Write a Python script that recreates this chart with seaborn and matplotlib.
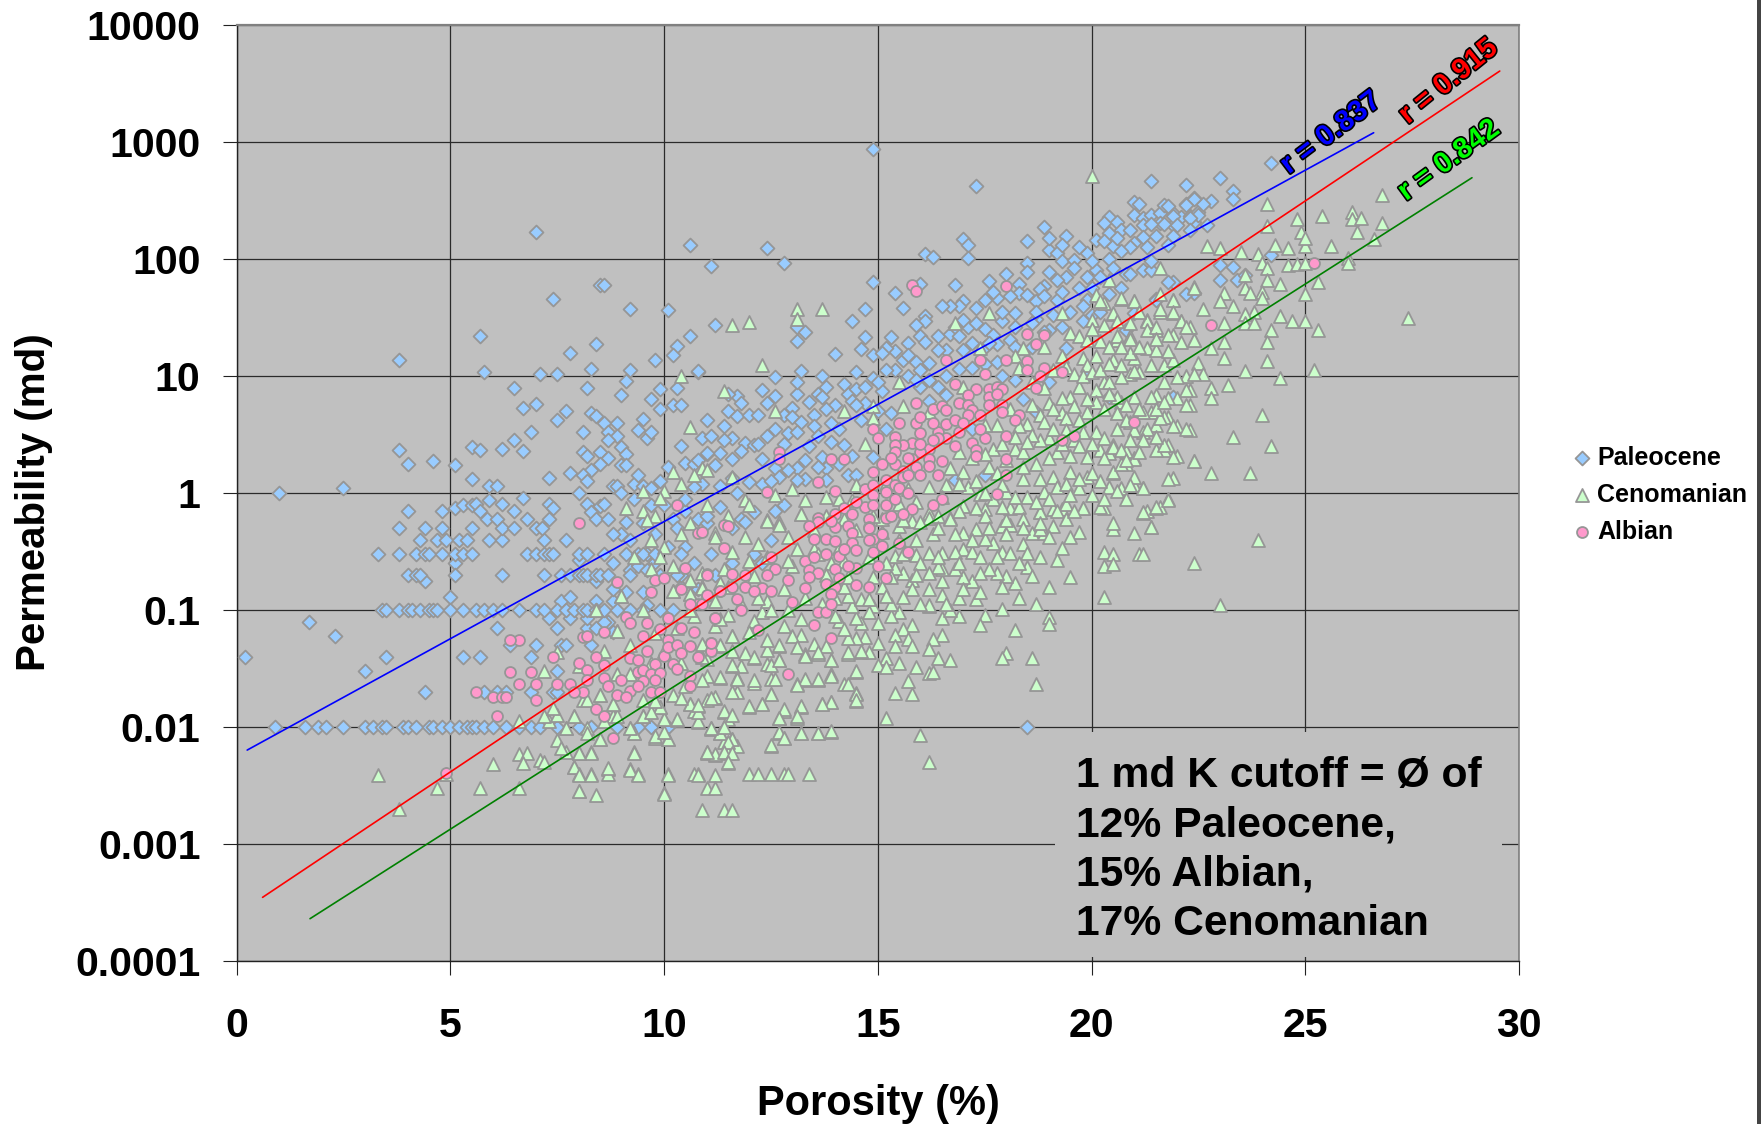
import matplotlib
matplotlib.use('Agg')
import matplotlib.pyplot as plt
import matplotlib.patheffects as pe
from matplotlib.patches import Rectangle
import pandas as pd
import seaborn as sns

# porosity (%) of Paleocene samples sitting on the round permeability values (md)
paleo_por_k001 = [.9,1.6,1.9,2.1,2.5,3,3.2,3.4,3.5,3.9,4,4.2,4.5,4.6,4.8,5,5.2,5.4,5.5,5.6,5.8,6,6.3,6.6,6.9,7.1,7.5,8,8.3,8.9,9.4,9.7,10.1,18.5]
paleo_por_k01 = [3.4,3.5,3.8,4,4.1,4.3,4.5,4.6,4.7,5,5.3,5.6,5.8,6,6.2,6.6,7,7.2,7.5,7.7,7.9,8.1,8.2,8.4,8.6,8.9,9.2,9.5,9.9,10.2]
paleo_por_k02 = [4,4.2,4.3,5.1,6.2,7.2,7.6,7.8,8,8.1,8.2,8.4,8.5,8.7,9.2,10.3]
paleo_por_k03 = [3.3,3.8,4.2,4.4,4.5,4.8,5.1,5.3,5.5,6.8,7,7.2,7.3,7.4,8,8.2,8.6,9.1,9.4,9.5,9.8,10.4]
paleo_por_k04 = [4.3,4.7,4.9,5.2,5.4,5.9,6.2,7.2,7.7]
paleo_por_k05 = [3.8,4.4,4.8,5.5,6.2,6.5,7,7.15]

# everything else: (porosity %, log10 permeability)
paleocene_pts = [(.2,-1.4),(1,0),(2.5,.04),(1.7,-1.1),(2.3,-1.22),(3.5,-1.4),(5.3,-1.4),(5.7,-1.4),(6.9,-1.4),(3,-1.52),(7.5,-1.52),
(4.4,-1.7),(5.8,-1.7),(6.1,-1.7),(6.3,-1.7),(6.9,-1.7),(7.4,-1.7),(7.5,-1.7),(6.4,-1.3),(7,-1.3),(7.6,-1.3),(7.7,-1.3),(8.3,-1.3),
(6.1,-1.15),(7.5,-1.15),(8.2,-1.15),(8.4,-1.15),(8.8,-1.19),(7.3,-1.07),(7.8,-1.07),(8.2,-1.07),(8.7,-1.1),(8.6,-1.1),
(5,-.89),(7.6,-.92),(7.8,-.89),(8.4,-.92),(8.8,-.92),(9.6,-.96),(4.4,-.75),(8.4,-.75),(8.8,-.82),(9.5,-.85),(9.1,-.85),(10.4,-.8),
(5.1,-.6),(8,-.57),(8.8,-.6),(9.2,-.66),(9.4,-.62),(9.6,-.66),(9.8,-.59),
(14.9,2.94),(17.3,2.62),(7,2.23),(10.6,2.12),(11.1,1.94),(8.5,1.78),(8.6,1.78),(7.4,1.66),(9.2,1.57),(10.1,1.56),(11.2,1.44),(5.7,1.34),(10.6,1.34),(10.3,1.26),(10.2,1.18),(7.8,1.2),(8.4,1.27),(3.8,1.14),(9.8,1.14),(8.3,1.06),(9.2,1.05),(10.8,1.03),(5.8,1.03),(7.1,1.02),(7.5,1.02),(6.5,.9),(8.2,.9),(9.1,.96),(9.9,.89),(10.3,.9),(9,.84),(9.7,.8),(6.7,.73),(7,.76),(10.2,.75),(10.4,.75),(9.9,.72),(7.7,.7),(8.3,.68),(8.4,.66),(7.5,.62),(8.6,.6),(8.9,.6),(9.5,.63),(8.1,.52),(6.9,.52),(8.7,.52),(8.9,.49),(9.4,.54),(9.6,.47),(9.7,.52),(8.7,.45),(6.5,.45),(3.8,.37),(5.5,.39),(5.7,.37),(6.2,.38),(6.7,.36),(8.1,.35),(8.2,.32),(8.5,.35),(8.7,.3),(9,.39),(9.1,.33),(4,.25),(4.6,.27),(5.1,.24),(8.5,.25),(9,.24),(9.1,.24),(8.3,.2),(7.8,.17),(5.5,.12),(7.3,.13),(8.1,.15),(8.2,.1),(10.1,.22),(10.5,.26),(10.7,.25),(10.8,.28),(11,.33),(5.9,.06),(6.1,.06),(8.8,.06),(8.9,.06),(9.3,.08),(9.5,.06),(8,0),(9,0),(9.7,.04),
(5.9,-.06),(6.7,-.04),(4,-.15),(4.8,-.15),(5.1,-.13),(5.3,-.1),(5.5,-.1),(5.6,-.09),(5.7,-.15),(5.85,-.22),(6.1,-.22),(6.2,-.09),(6.5,-.15),(6.8,-.22),(7.3,-.09),(7.4,-.13),(7.3,-.22),(8.2,-.09),(8.3,-.16),(8.4,-.22),(8.5,-.11),(8.6,-.09),(8.7,-.22),(9.1,-.25),
(9.3,-.05),(9.7,-.1),(10,-.1),(10.2,-.22),(9.5,-.26),(9.8,-.35),(10.3,-.3),(10.5,-.15),(10.8,-.22),(11,-.26),(11.3,-.12),(11.6,-.3),(9,-.35),(9.2,-.4),(8.8,-.35),(9.6,-.52),(10.1,-.46),(10.5,-.46),(11.1,-.52),(10.7,-.6),(9.9,-.7),(10.4,-.7),(10.8,-.82),(11.2,-.7),(11.6,-.6),(12.1,-.52),(12.5,-.4),(12.3,-.6),
(21.4,2.67),(22.2,2.63),(21,2.49),(22.4,2.52),(12.4,2.09),(12.8,1.97),(16.1,2.04),(16.3,2.02),(17,2.17),(17.1,2.12),(17.1,2.01),(18.5,2.15),(18.9,2.27),(19.4,2.2),(19,2.08),(19.2,2.05),(19.9,2.05),(20.1,2.16),
(20.4,2.36),(20.3,2.31),(20.6,2.32),(20.4,2.22),(20.7,2.25),(20.9,2.25),(21,2.38),(21.2,2.35),(21.2,2.29),(21.4,2.38),(21.6,2.39),(21.7,2.46),(21.9,2.39),(21.9,2.29),(21.6,2.31),(21.2,2.19),(21,2.14),(21.3,2.1),(20.9,2.1),(20.5,2.11),(20.4,2),(20.7,2.07),(20.1,1.91),(20.5,1.92),(20.8,1.87),(21.2,1.91),(21.8,2.12),(22.1,2.36),(22.3,2.37),(22.5,2.4),(22.4,2.32),(22.2,2.47),
(24.2,2.82),(23,2.69),(23.3,2.58),(23.3,2.51),(22.8,2.5),(22.6,2.47),(22.4,2.51),(21.1,2.47),(21.8,2.45),(22.2,2.46),(21.9,2.37),(22.5,2.38),(22.3,2.35),(22.7,2.29),(21.7,2.3),(21.4,2.3),(22,2.29),(24.2,2.03),(23,1.95),(23.3,1.93),(23,1.82),(23.4,1.82),(23.6,1.86),(21.9,1.8),(22.4,1.71),(21.5,1.66),(20.9,1.87),(21.4,1.91),(21.4,1.98),(21,1.54),
(19.9,1),(20,1.52),(19.8,1.47),(19,1.39),(19.4,1.24),(19,.95),(20.8,1.39),(21.5,1.65),(21.8,1.8),(22.2,1.7),(20.4,.82),(21.9,.82),(18.7,.69),(18.4,.8),(18.2,.97),(17.9,1),(17.5,.15),(16.8,.11),(17.2,.55),
(14.9,1.8),(15.4,1.71),(16,1.79),(16.8,1.78),(17.6,1.81),(18,1.87),(18.5,1.97),(18.5,1.89),(19,1.89),(19.3,1.98),(19.6,1.99),(19.6,1.92),(19.9,1.85),(19.4,1.85),(19.2,1.82),(18.9,1.77),(18.8,1.74),(18.3,1.79),(18.3,1.71),(18.5,1.69),(18.7,1.64),(18.9,1.68),(19.2,1.65),(19.7,1.75),(19.9,1.65),(17.8,1.67),(17.7,1.72),(17.5,1.65),
(14.7,1.57),(14.4,1.47),(17,1.64),(16.9,1.6),(16.7,1.6),(16.5,1.6),(15.6,1.58),(16.1,1.51),(16.1,1.47),(15.9,1.44),(13.1,1.42),(13.3,1.38),(13.1,1.3),(14.7,1.33),(15.3,1.33),(14.6,1.23),(14,1.19),(15.7,1.28),(15.4,1.21),(15.2,1.24),(14.9,1.18),(16,1.34),(16.1,1.29),(16.4,1.34),(16.7,1.36),(16.8,1.42),(17.1,1.42),(17.3,1.45),(17.5,1.4),(17.9,1.47),(18.2,1.54),(17.7,1.35),(16.9,1.34),(16.6,1.22),(17,1.22),(17.2,1.28),(17.5,1.25),(17.8,1.27),(18.1,1.31),(18.7,1.49),(19.1,1.52),(18.6,1.45),
(15.6,1.14),(15.9,1.12),(16.2,1.11),(16,1.05),(15.7,1),(15.4,1.05),(15.2,1.05),(14.9,.98),(14.5,1.03),(13.7,1),(13.2,1.04),(12.6,.99),(10.8,1.04),(13.8,.91),(13.6,.85),(14.3,.85),(14.5,.89),(14.7,.91),(15.1,.87),(16,.91),(16.4,.91),(16.2,.79),(15.9,.97),(16.6,1),(16.9,1.06),(17.2,1.07),
(13.1,.85),(12.6,.83),(11.7,.83),(11.8,.77),(12.4,.77),(13,.73),(13.4,.78),(13.7,.82),(14,.75),(13.8,.72),(14.4,.79),(14.7,.77),(15.3,.68),(16.6,.84),(11.5,.7),(11.7,.66),(12,.67),(12.2,.67),(12.8,.67),(13.5,.67),(11,.62),(13,.65),(13.2,.61),(13.5,.57),(13.6,.49),(11.4,.57),(12.4,.49),(12.9,.51),(13.1,.52),(10.9,.47),(11.6,.47),(11.1,.49),(11.9,.43),(12.1,.41),(11.3,.34),(11.8,.36),(11,.34),(12.3,.29),(12.8,.42),(13.9,.44),(14.2,.41),(14.4,.32),(14.9,.31),(13.7,.31),(14.3,.15),(13.8,.21),(13.3,.28),(13.1,.21),(12.6,.21),(11.6,.29),(11.2,.24),(12.7,.14),(13.3,.12),(13.8,.11),(13.1,.11),(12.3,.08),(12,.09),(11.3,.06),(10.9,.08),(11.7,0),(12.8,-.1),(12.6,-.15),(12.1,-.16),(11.8,-.22),(11.9,-.25),(11,-.2),
(17.5,1.1),(17.8,1.12),(18.2,1.25),(18.6,1.25),(18.9,1.38),(19.3,1.42),(19.5,1.55),(19.8,1.6),(20.2,1.55),(20.4,1.7),(20,1.75),(20.7,1.75),(20.2,1.85),(19.3,1.72),(18.7,1.55),(18.1,1.68),(18.2,1.42),(17.9,1.55),(17.3,1.58),(17.6,1.28),(17,1.48),(16.4,1.22),(16.2,.97),(15.7,1.18),(15.1,1.2),(15,.95),(14.5,.75),(14.2,.93),(13.9,.6),(14.1,.55),(14.6,.62),(15,.7),(15.2,.55),(13.4,.4),(12.6,.55),(12.2,.42),(11.6,.13),(12.5,.1),(12.9,.2),(13.6,.22),(14.1,.25),(14.5,.15),(11.4,.45),(10.4,.4),(10.7,.05),(10.5,-.05),(9.9,.1),(9.4,.15),(11.5,.85),(12.3,.88),(13.1,.95),(19,2.18),(19.7,2.1),(20,1.98),(19.3,2.12),(20.3,2.15),(20.6,2.18),(21.5,2.2),(21.9,2.2),(22.3,2.25)]

cenomanian_pts = [(20,2.71),(24.1,2.47),(26.8,2.55),(25.4,2.37),(26.1,2.4),(26.1,2.34),(26.3,2.35),(26.8,2.31),(26.2,2.23),(26.6,2.17),(24.8,2.34),(24.1,2.28),(24.9,2.23),(22.7,2.11),(23,2.09),(23.5,2.06),(23.9,2.04),(24.3,2.12),(24.6,2.09),(25,2.11),(25,2.18),(25.6,2.11),(26,2.01),(26,1.97),(21.6,1.92),(24,1.97),(24.1,1.92),(24.6,1.95),(24.8,1.96),(25,1.97),(23.6,1.86),(24.1,1.82),(24.4,1.79),(25.3,1.8),(25,1.7),(22.4,1.76),(23.1,1.71),(23.6,1.75),(23.7,1.71),(24,1.72),(24,1.67),(21.6,1.7),(21.9,1.65),(21,1.64),(20.7,1.66),(20.3,1.62),(23,1.64),(23.3,1.6),(22.6,1.57),(21.6,1.55),(21.9,1.54),(20.5,1.53),(23.8,1.55),(23.6,1.53),(24.4,1.51),(24.7,1.47),(25,1.47),(27.4,1.5),(25.3,1.39),(24.2,1.39),
(21.3,1.48),(22.1,1.47),(22.3,1.42),(23.1,1.45),(23.6,1.45),(23.8,1.45),(21.9,1.35),(21.5,1.39),(22.4,1.31),(22.8,1.24),(23.1,1.29),(24.1,1.29),(20.6,1.31),(20.9,1.34),(22.1,1.29),(21.7,1.09),(21.9,1.14),(23.1,1.15),(24.1,1.13),(22.5,1.11),(23.6,1.04),(25.2,1.05),(24.4,.98),(22.2,1),(20.9,1.02),(21.1,1.03),(22.6,1.02),(20.3,.95),
(23.2,.92),(22.8,.9),(22.3,.88),(21.5,.84),(22.8,.81),(22,.81),(22.3,.75),(20.7,.78),(24,.67),(21.4,.69),(20.6,.68),(21.8,.65),(21.7,.65),(20.9,.61),(22,.57),(22.3,.54),(21.2,.52),(21.5,.58),(23.3,.48),(24.2,.4),(21.8,.41),(21.7,.37),(20.5,.41),(21,.3),(22,.32),(22.4,.27),(20.8,.36),(20.4,.34),(22.8,.17),(23.7,.17),(21.9,.13),(20.8,.25),(20.5,.17),(21,.07),(20.7,.04),(21.2,.04),(21.8,-.05),(21.6,-.12),(21.3,-.15),
(23.9,-.4),(23,-.96),(22.4,-.6),(21.1,-.52),(20.3,-.89),(20.5,-.31),(21,-.34),(21.4,-.29),(21.2,-.17),(21.5,-.13),(20.3,-.5),(20.5,-.52),(21.2,-.52),(20.3,-.62),(20.5,-.61),(19.5,-.72),(19,-.8),(18.7,-.95),(19,-1.06),(19,-1.12),(18.2,-1.17),(17.9,-.99),(17.5,-1.04),(17.4,-1.13),(17.3,-.91),(18.6,-1.41),(18,-1.37),(17.9,-1.41),(18.7,-1.63),(15.7,-1.61),(15.4,-1.71),(15.8,-1.72),(15.2,-1.92),(16,-2.07),(16.2,-2.3),
(14.5,-1.53),(14.2,-1.63),(14.5,-1.71),(14.5,-1.78),(13.7,-1.8),(13.9,-1.79),(13.2,-1.83),(13.1,-1.92),(12.8,-1.86),(12.7,-1.92),(12.3,-1.8),(12.5,-1.72),(12,-1.83),(12.1,-1.62),(11.7,-1.7),(11.2,-1.75),(11.4,-1.87),(11.5,-1.93),(13.9,-2.04),(13.6,-2.05),(13.2,-2.05),(12.8,-2.09),(12.7,-2.05),(12.5,-2.16),(11.6,-2.1),(11.3,-2.05),(11.1,-2.02),(11.4,-2.13),(11.7,-2.16),(11,-2.22),(11.2,-2.24),(11.5,-2.22),(11.5,-2.31),
(11.2,-2.41),(12,-2.4),(12.2,-2.4),(12.5,-2.4),(12.8,-2.4),(12.9,-2.4),(13.4,-2.4),(10.8,-2.4),(11,-2.52),(11.2,-2.52),(10.9,-2.71),(11.4,-2.71),(11.6,-2.71),
(15.8,-1.13),(15.6,-1.16),(15.4,-1.21),(15.7,-1.25),(15.8,-1.31),(15.4,-1.31),(15,-1.28),(14.7,-1.23),(14.5,-1.24),(14.3,-1.24),(14.8,-1.36),(14.6,-1.36),(14.3,-1.38),(15.2,-1.41),(15.5,-1.45),(15,-1.47),(15.2,-1.49),(15.9,-1.49),(16.2,-1.54),(16.3,-1.53),(16.5,-1.21),(16.3,-1.25),(16.2,-1.33),(16.7,-1.43),(16.4,-1.41),
(16.9,-1.05),(16.5,-1.07),(16.2,-.97),(16.7,-1),(15.5,-1.02),(15.3,-1.05),(15,-1.11),(14.9,-.97),(14.6,-1.11),(14.5,-1.07),(14.4,-.97),(14.1,-1.09),(14.2,-1.16),(13.9,-1.43),(13.9,-1.55),(13.6,-1.6),(13.3,-1.6),(13.3,-1.38),(13.6,-1.38),(13.5,-1.29),(13.8,-1.31),(13.2,-1.21),(13,-1.22),(12.7,-1.31),(12.7,-1.43),(12.4,-1.34),(12.4,-1.46),(12.1,-1.41),(11.9,-1.37),(11.6,-1.22),(11.6,-1.35),(11.8,-1.48),(11.6,-1.48),(11.3,-1.31),(11.3,-1.58),(11.7,-1.58),(11,-1.56),(12.5,-1.59),(13.1,-1.63),(12.8,-1.14),(12.3,-1.02),(12.1,-1.09),(11.5,-1.04),(11.2,-1.14),(11,-1.42),
(15.9,-.53),(16.2,-.51),(16.5,-.51),(17,-.48),(17.2,-.5),(17.7,-.43),(17.9,-.5),(18.1,-.51),(18.4,-.44),(18.5,-.51),(18.6,-.34),(18.9,-.34),(19.3,-.47),(19.2,-.57),(18.5,-.63),(18.6,-.71),(18.2,-.77),(18,-.71),(17.8,-.68),(17.6,-.65),(17.2,-.75),(17,-.72),(16.8,-.65),(16.5,-.75),(16.5,-.65),(16.4,-.63),(16.2,-.68),(15.8,-.74),(15.6,-.68),(15.4,-.64),(15.8,-.82),(16.2,-.82),(16.5,-.87),(16.9,-.9),(17,-.82),(16.2,-.96),(15.6,-.89),(15.3,-.95),(14.6,-.91),(14.3,-.88),(14.2,-.8),(14,-.9),(15.4,-.54),(15.1,-.8),(14.8,-.91),
(16.3,-.35),(16.7,-.21),(17,-.34),(17.3,-.31),(17.5,-.39),(17.9,-.28),(18.1,-.27),(18.8,-.31),(19.1,-.14),(19.3,-.14),(19.7,-.33),(19.8,-.13),(20.3,-.13),(15.5,-.28),(15.9,-.4),(15.8,-.24),(16.2,-.17),(17.5,-.14),(18.1,-.13),(18.8,-.16),
(20.1,1.69),(20.4,1.82),(20.7,1.67),(21,1.64),(21.6,1.57),(21.9,1.65),(22.4,1.75),(20.2,1.64),(20.5,1.54),(19.3,1.54),(20,1.48),(20.3,1.44),(19.5,1.37),(19.7,1.34),(19.9,1.31),(20.6,1.34),(20.9,1.32),(21.3,1.47),(21.3,1.39),(21.5,1.42),(21.8,1.35),(22.1,1.47),(22.2,1.42),(22.4,1.31),(21.9,1.55),(21.3,1.24),(21,1.15),(20.5,1.14),(20.1,1.17),(19.8,1.15),(19.9,1.09),(19.3,1.17),(18.9,1.25),(18.4,1.24),(18.2,1.17),(18.3,1.07),(17.6,1.54),(16.8,1.45),(17.4,1.24),(15.5,.95),(12.3,1.09),(13.7,1.57),(13.1,1.57),(13.1,1.49),(12,1.46),(11.6,1.44),(11.4,.87),(12.6,.7),(14.2,.7),(15.6,.74),(14.9,.74),(14.9,.64),(16.2,.69),(17,.91),
(21.5,1.22),(21.8,1.21),(22,.99),(22.4,1.02),(22.2,.88),(21.8,.81),(21.7,.95),(21.4,1.09),(21,1.04),(20.7,.99),(20.4,.95),(20.1,.88),(19.7,.91),(19.5,.82),(19.3,.81),(19,.77),(20.6,.82),(21,.82),(21.4,.82),(19.9,.69),(19.3,.68),(18.8,.67),(18.5,.59),(18.9,.61),(19.4,.64),(19.7,.62),(20.1,.78),(20.6,.68),(21.2,.69),(21.6,.64),(22.2,.75),(21.9,.57),(22.2,.55),(21.3,.55),(20.8,.62),(21,.54),(20.1,.52),(19.8,.52),(19.4,.54),(19,.47),(18.8,.45),(18.3,.57),(17.8,.58),(17.5,.58),(16.9,.35),(17.7,.38),(18.2,.38),(18.4,.35),(18.7,.25),(19.2,.35),(19.5,.32),(19.9,.31),(20.2,.37),(20.5,.39),(20.7,.37),(21,.29),(21.5,.37),(21.9,.31),(22.4,.27),(21.7,.41),(19.1,.14),(19.5,.18),(19.9,.14),(20.5,.18),(20.7,.25),(21,.14),(21.8,.12),(20.4,.05),(20.6,.02),(20.9,.07),(21.2,.04),(21.8,-.06),(21.2,-.16),(21.5,-.12),(20.2,-.12),(19.8,-.13),(19.4,-.09),(18.8,-.16),(19.2,-.15),(18.5,-.03),(18,.01),(17.6,.22),(17.9,.07),(18.4,.12),(18.9,.01),(19.2,.05),(19.7,.04),(20,.17),(16.7,.21),(17,.18),(17.8,.17),(17.1,.05),(16.6,.07),(17.4,-.01),(17.7,-.05),(17.3,-.13),(18.3,-.12),(16.7,-.22),(16.2,-.21),(17,-.11),(15.5,-.09),(14.7,.42),(14.5,.07),(14.1,-.05),(13.8,-.03),(13.3,-.06),(13,.03),(12.6,-.02),(11.9,-.06),(12.4,-.23),(12.7,-.25),(13.2,-.18),(10.9,.21),(11.6,.14),(14.4,-.06),(15.1,-.22),(15.6,-.23),(18,-.23),(18.8,-.26),(19.4,-.22),(20.5,-.26),(21.4,-.29),
(8.4,-1),(9,-.88),(8.9,-1.18),(10.2,-.84),(10.6,-.86),(10.9,-.8),(10.7,-1.05),(11.3,-1.08),(11.6,-1.22),(12,-1.19),(12.4,-1.26),(12.7,-1.3),(13.1,-1.32),(11.3,-1.3),(10.9,-1.4),(11.6,-1.47),(12.1,-1.4),(12.5,-1.47),(12.7,-1.43),(13.3,-1.39),(13.6,-1.36),(13.9,-1.43),(14.3,-1.36),(14.6,-1.35),(14.5,-1.52),(11.3,-1.57),(11.7,-1.59),(12.1,-1.6),(12.6,-1.59),(13.3,-1.59),(13.6,-1.59),(13.9,-1.56),(13.1,-1.64),(14.3,-1.63),(14.5,-1.72),(14.5,-1.77),(13.9,-1.79),(13.7,-1.8),(13.2,-1.82),(12.8,-1.85),(12.7,-1.92),(13.1,-1.91),(12.5,-1.72),(12.3,-1.8),(12,-1.82),(11.6,-1.7),(11.2,-1.74),(11,-1.77),(10.8,-1.82),(10.6,-1.8),(10.2,-1.73),(11.4,-1.86),(11.6,-1.9),(10.7,-1.86),(10.3,-1.94),(10,-1.93),(9.9,-1.83),(9.5,-1.91),(8.8,-1.91),(8.5,-1.73),(8.1,-1.77),(8.8,-1.8),(7.9,-1.91),(7.7,-2.01),(8.2,-2.01),(8.5,-2.1),(9.2,-2.01),(9.3,-2.05),(9.8,-2.09),(10.1,-2.1),(10.8,-1.96),(11.1,-2.01),(11.3,-2.05),(11.4,-2),(11.6,-2.1),(11.5,-2.13),(12.7,-2.04),(12.8,-2.09),(13.2,-2.05),(13.6,-2.05),(13.9,-2.03),(12.5,-2.15),(9.3,-2.21),(11,-2.21),(11.2,-2.23),(11.4,-2.21),(11.6,-2.22),(11.5,-2.3),(8,-2.22),(8.3,-2.21),(7.9,-2.34),(8,-2.4),(8.3,-2.4),(8.7,-2.36),(8.7,-2.4),(9.2,-2.36),(9.4,-2.4),(10.1,-2.4),(10.7,-2.4),(8,-2.55),(10,-2.56),(8.4,-2.58),
(3.3,-2.41),(3.8,-2.7),(4.9,-2.4),(4.7,-2.52),(6,-2.32),(5.7,-2.52),(6.6,-2.52),(6.6,-2.23),(6.8,-2.22),(6.7,-2.31),(7.1,-2.28),(7.2,-2.3),(7.5,-2.11),(7.7,-2.21),(7.6,-2.18),(7.9,-2.34),(8,-2.41),(8.3,-2.41),(8,-2.55),(8.7,-2.35),(9.2,-2.37),(9.4,-2.41),(10.1,-2.41),(10,-2.57),(10.8,-2.41),(11,-2.21),(9.3,-2.22),(8.3,-2.22),(8,-2.22),
(7.7,-2.01),(8.2,-2.05),(8.5,-2.1),(9.3,-2.05),(9.8,-2.08),(10.1,-2.1),(10,-2.04),(7.3,-1.95),(7.5,-1.9),(7.2,-1.91),(7.4,-1.84),(6.6,-1.95),(7.9,-1.91),(8.6,-1.95),(8.9,-1.91),(9.2,-2.01),(9.5,-1.91),(10,-1.93),(10.3,-1.93),(10.8,-1.95),(11.1,-2.01),(9.9,-1.83),(10.6,-1.8),(10.8,-1.87),
(8.2,-1.77),(8.5,-1.73),(8.8,-1.8),(9.5,-1.77),(9.7,-1.87),(9.8,-1.78),(10.4,-1.75),(10.8,-1.81),(11.1,-1.75),(9,-.88),(8.4,-1),(8.9,-1.18),(10.2,-.84),(10.6,-.86),(10.9,-.8),(7.2,-1.52),(7.5,-1.36),(8,-1.48),(10,-.46),(9.7,-.4),(9.9,-.55),(11.2,-.34),(10.6,-.74),(10.9,-.68),
(10.4,1),(10.6,.56),(10.2,.18),(10.7,.15),(11,.2),(10.4,.08),(9.5,.02),(10,.02),(9.9,-.04),(9.1,-.13),(9.5,-.15),(9.8,-.2),(9.6,-.23),(10.6,-.26),
(11.2,-.38),(11.9,-.38),(12.2,-.44),(13.1,-.48),(12.4,-.24),(12.7,-.27),(13.2,-.18),(13,-.62),(13.5,-.48),(14.1,-.47),(12.8,-.82),(12.4,-.92),(12.1,-.71),(11.6,-.5),(11.3,-.77),(10.9,-.81),(10.9,-1.29),
(18.6,.95),(18.9,.9),(19.1,1.05),(19.4,1.08),(19.6,1.02),(19.8,1),(20,1.03),(20.2,1.05),(20.4,1.1),(20.7,1.09),(20.9,1.2),(20.2,1.3),(20.4,1.25),(20.7,1.25),(21.1,1.25),(21.5,1.32),(20,1.4),(20.6,1.47),(20.9,1.45),(21.1,1.55),(18.6,.75),(19.1,.72),(19.6,.74),(19.9,.8),(20.3,.72),(20.4,.85),(20.8,.75),(21.1,.72),(21.5,.72),(21.7,.78),(18.1,.72),(18.6,.5),(19.1,.55),(19.6,.45),(20.3,.47),(20.6,.55),(20.9,.45),(21.2,.45),(21.5,.48),(18.2,.48),(17.9,.42),(18.5,.44),(19,.3),(19.3,.42),(19.7,.4),(20,.42),(20.3,.3),(20.8,.28),(21.1,.35),(17.2,.3),(17.5,.33),(18,.28),(18.4,.22),(18.8,.12),(19.4,.08),(19.7,.12),(20.2,.1),(16.9,.08),(17.3,.1),(17.5,0),(18.2,-.03),(18.7,-.08),(19,-.05),(19.5,-.02),(20,-.02),(20.3,-.05),(20.8,-.05),(16.2,.05),(16.5,-.03),(16.9,-.15),(17.5,-.2),(17.9,-.12),(18.4,-.22),(19.1,-.28),(19.6,-.15),(15.7,.03),(15.9,-.08),(16.4,-.2),(15.2,.08),
(14.2,-.22),(14.5,-.32),(14.9,-.2),(15.1,-.33),(15.5,-.4),(16,-.25),(16.4,-.3),(16.8,-.35),(17.2,-.4),(17.6,-.3),(18,-.35),(18.4,-.3),(19,-.38),(19.5,-.38),(14.8,-.55),(15.2,-.6),(15.6,-.52),(16,-.6),(16.4,-.55),(16.8,-.5),(17.4,-.55),(17.8,-.55),(18.3,-.6),(18.8,-.55),(14.2,-.58),(13.9,-.6),(13.6,-.52),(13.8,-.7),(14.3,-.72),(14.9,-.72),(15.3,-.72),(15.9,-.7),(16.9,-.6),(17.4,-.68),(17.9,-.8),(18.3,-.9),(17.4,-.85),(16.6,-.95),(16,-.95),(15.2,-.88),(14.8,-1.02),(14,-1.05),(13.7,-.95),(13.3,-.9),(12.9,-1),(12.5,-1),(13.2,-1.08),(12.2,-.9),(11.8,-.95),(11.5,-.8),(11.2,-.92),(10.6,-1),(10.3,-1.15),(9.8,-1.2),(10,-1.35),(10.4,-1.45),(9.7,-1.45),(9.2,-1.3),(9.5,-1),(9.2,-1.55),(8.9,-1.55),(8.6,-1.35),(10.9,-1.6),(10.5,-1.65),(11.4,-.65),(12,-.58),(12.9,-.58),(12.4,-.55),(12.9,-.38),(13.5,-.32),(13.8,-.2),(12,-.1),(11.5,-.2),(11,-.1),(10.4,-.35),(9.3,-.55),(10.2,-.62),(9.7,-.65)]

albian_pts = [(15.8,1.78),(15.9,1.73),(18,1.77),(18.5,1.36),(18.9,1.35),(18.7,1.27),(16.6,1.14),(17.4,1.14),(18,1.14),(18.5,1.13),(18.5,1.05),(17.5,1.02),(18.9,1.07),(18.8,1),(19.3,1.03),(18.7,.9),(16.8,.93),(17.3,.89),(17.6,.89),(17.8,.91),(17.9,.89),(17.1,.84),(17.6,.82),(17.8,.85),(16.9,.77),(17.1,.75),(15.9,.77),(16.3,.72),(16.5,.74),(16.6,.71),(17.2,.71),(17.1,.67),(17.4,.67),(17.9,.75),(17.9,.69),(18.3,.67),(18.2,.62),(15.9,.6),(16.6,.59),(14.9,.55),(15,.47),(16,.51),(16.4,.52),(16.6,.47),(16.9,.52),(15.4,.48),(18,.49),(17.5,.47),(17.2,.43),(15.8,.43),(15.6,.41),(15.4,.41),(16.2,.38),(16.4,.47),(16.8,.4),(17.3,.37),(17.3,.32),(16,.35),(15.8,.29),(15.4,.35),(16.2,.29),(16.5,.27),(15.4,.25),(15.9,.22),(16.2,.23),(15.6,.19),(14.9,.18),(16,.15),(18,.29),(18,.15),(12.7,.35),(12.7,.29),(13.9,.29),(14.2,.29),(13.6,.09),(14,.02),(12.4,.01),(11.4,-.27),(14.7,.03),(14.9,.07),(15.2,.11),(15.4,.07),(15.6,.14),(15.2,.01),(15.5,.04),(15.7,0),(14.9,-.02),(14.7,-.12),(14.9,-.1),(15.2,-.1),(15.8,-.14),(16.5,-.05),(16.3,-.1),(17.8,-.01),(19.3,.45),(19.6,.49),(21,.61),(25.2,1.97),(22.8,1.44),(14.2,-.13),(14,-.18),(14.4,-.18),(14.8,-.22),(15.2,-.21),(13.6,-.21),(13.6,-.25),(13.4,-.28),(14.3,-.28),(14,-.29),(14.8,-.29),(15.6,-.18),
(11.5,-.28),(13.9,-.24),(14.8,-.3),(15.3,-.2),(14.4,-.34),(13.5,-.39),(13.8,-.39),(14,-.41),(14.9,-.39),(14.4,-.43),(11.4,-.47),(13.8,-.52),(14.1,-.54),(14.5,-.49),(14.9,-.5),(15.1,-.45),(15.5,-.43),(15.7,-.5),(13.3,-.58),(15,-.62),(12.5,-.55),(12.6,-.65),(12.4,-.7),(11.9,-.7),(11.6,-.69),(11,-.69),(13.4,-.66),(13.6,-.68),(14,-.65),(14.5,-.64),(14.1,-.73),(12.9,-.74),(13.4,-.72),(15.2,-.73),(13.8,-.78),(14,-.8),(13.3,-.81),(14.5,-.79),(14.8,-.8),(11.6,-.8),(11.9,-.8),(12.3,-.81),(12.1,-.84),(12.5,-.84),(11.3,-.84),(11,-.88),(13.9,-.86),(11.7,-.91),(13,-.93),(11.8,-1),(10.8,-.95),(13.6,-1.02),(13.8,-1.02),(11.2,-1.07),(13.5,-1.13),(12.2,-1.17),(13.9,-1.24),(11.1,-1.28),(11.1,-1.35),(12.9,-1.55),
(4.9,-2.39),(6.1,-1.91),(5.6,-1.7),(6,-1.74),(6.2,-1.74),(6.3,-1.74),(6.4,-1.53),(6.6,-1.26),(6.4,-1.26),(6.6,-1.63),(6.9,-1.53),(7,-1.63),(7,-1.77),(7.4,-1.4),(7.5,-1.63),(7.8,-1.63),(8,-1.45),(8.1,-1.7),(7.9,-1.7),(8.1,-1.23),(8.2,-1.22),(8.6,-1.19),(8.4,-1.4),(8.2,-1.51),(8.6,-1.47),(8.2,-1.6),(8.6,-1.58),(8.7,-1.65),(9,-1.6),(8.9,-1.73),(9.2,-1.69),(9.1,-1.74),(8.4,-1.85),(8.6,-1.91),(8.8,-2.09),(8.9,-.76),(9.1,-1.06),(9.2,-1.11),(9.2,-1.41),(9.4,-1.43),(9.5,-1.22),(9.6,-1.11),(9.4,-1.53),(9.5,-1.51),(9.8,-1.46),(9.7,-1.55),(9.5,-1.61),(9.4,-1.65),(9.7,-1.7),(9.9,-1.54),(9.9,-1.7),(10,-1.39),(10.1,-1.26),(10.1,-1.32),(10.3,-1.3),(10.4,-1.37),(10.2,-1.46),(10.6,-1.31),(10.6,-1.56),(10.6,-1.65),(10.4,-1.15),(10.1,-1.07),(9.9,-1.16),(10.7,-1.19),(11.1,-1.35),(11.1,-1.28),(11.2,-1.07),(10.6,-.95),(10.9,-.95),(11,-.87),(10.4,-.82),(9.7,-.85),(9.8,-.74),(10,-.73),(10.5,-.64),(11,-.7),(10.8,-.34),(11.3,-.84),(8,-.26),(10.3,-.1),(10.9,-.33),
(15.5,.6),(15.3,.3),(15.7,.3),(16,.42),(16.3,.45),(16.8,.62),(17,.6),(17.4,.55),(17.6,.75),(16,.65),(16.3,.6),(15.7,.15),(15.4,-.05),(14.5,-.08),(15.1,.25),(16.4,.15),(14.8,-.4),(15.1,-.35),(14.2,-.48),(13.5,-.55),(14.3,-.62),(13.9,-.95),(9.8,-1.6),(10.3,-1.5),(9.6,-1.35),(10.8,-1.4)]

# fitted lines, end points
line_por_paleocene = [.25,26.6]
line_k_paleocene = [.00635,1200]
line_por_albian = [.61,29.55]
line_k_albian = [.00035,4040]
line_por_cenomanian = [1.72,28.9]
line_k_cenomanian = [.00023,495]

y_ticks = [.0001,.001,.01,.1,1,10,100,1000,10000]
y_labels = ['0.0001','0.001','0.01','0.1','1','10','100','1000','10000']
x_ticks = [0,5,10,15,20,25,30]
note = '1 md K cutoff = Ø of\n12% Paleocene,\n15% Albian,\n17% Cenomanian'


def make_frame(pts, rows=()):
    df = pd.DataFrame(pts, columns=['por', 'logk'])
    df['k'] = 10 ** df['logk']
    for por, k in rows:
        df = pd.concat([df, pd.DataFrame({'por': por, 'k': k})], ignore_index=True)
    return df


sns.set_style('white')
plt.rcParams['font.family'] = ['Liberation Sans', 'DejaVu Sans']
plt.rcParams['font.weight'] = 'bold'
plt.rcParams['text.color'] = 'black'

W, H = 1761, 1124
fig = plt.figure(figsize=(W / 100, H / 100), dpi=100, facecolor='white')
ax = fig.add_axes([236.5 / W, 1 - 961 / H, (1519 - 236.5) / W, (961 - 25) / H])
ax.set_facecolor('#C0C0C0')

paleo = make_frame(paleocene_pts, [(paleo_por_k001, .01), (paleo_por_k01, .1), (paleo_por_k02, .2),
                                   (paleo_por_k03, .3), (paleo_por_k04, .4), (paleo_por_k05, .5)])
ceno = make_frame(cenomanian_pts)
albian = make_frame(albian_pts)

edge = '#969696'
sns.scatterplot(data=paleo, x='por', y='k', marker='D', s=50, color='#99CCFF', edgecolor=edge,
                linewidth=1.3, label='Paleocene', ax=ax, zorder=3, clip_on=False)
sns.scatterplot(data=ceno, x='por', y='k', marker='^', s=88, color='#CCFFCC', edgecolor=edge,
                linewidth=1.3, label='Cenomanian', ax=ax, zorder=4, clip_on=False)
sns.scatterplot(data=albian, x='por', y='k', marker='o', s=62, color='#FF99CC', edgecolor=edge,
                linewidth=1.3, label='Albian', ax=ax, zorder=5, clip_on=False)

for px, pk, col in [(line_por_paleocene, line_k_paleocene, '#0000FF'),
                    (line_por_albian, line_k_albian, '#FF0000'),
                    (line_por_cenomanian, line_k_cenomanian, '#008000')]:
    sns.lineplot(x=px, y=pk, color=col, linewidth=1.2, ax=ax, zorder=6, legend=False)

ax.set_yscale('log')
ax.set_xlim(0, 30)
ax.set_ylim(.0001, 10000)
ax.set_xticks(x_ticks)
ax.set_yticks(y_ticks, y_labels)
ax.minorticks_off()
ax.grid(True, color='#2a2a2a', linewidth=.9, zorder=1)
ax.set_axisbelow(True)
ax.tick_params(axis='both', length=10, width=.8, color='#222222', labelcolor='black', labelsize=29.5, left=True, bottom=True)
ax.tick_params(axis='y', pad=16)
ax.tick_params(axis='x', pad=23)
ax.set_xlabel('')
ax.set_ylabel('')

for side, col, lw in [('left', '#222222', 1.0), ('bottom', '#222222', 1.0), ('top', '#808080', 1.6), ('right', '#808080', 1.2)]:
    ax.spines[side].set_visible(True)
    ax.spines[side].set_color(col)
    ax.spines[side].set_linewidth(lw)

fig.text(878 / W, 1 - 1104 / H, 'Porosity (%)', fontsize=30, ha='center', va='center')
fig.text(34 / W, 1 - 502 / H, 'Permeability (md)', fontsize=29, rotation=90, ha='center', va='center')

# box behind the note hides the grid there
ax.add_patch(Rectangle((1055 / W, 1 - 957 / H), 447 / W, 225 / H, transform=fig.transFigure,
                       facecolor='#C0C0C0', edgecolor='none', zorder=2))
fig.text(1076 / W, 1 - 850 / H, note, fontsize=30.7, ha='left', va='center', linespacing=1.3, zorder=7)

for txt, col, xpos, kpos, rot in [('r = 0.837', '#0000FF', 25.6, 1200, 37),
                                  ('r = 0.915', '#FF0000', 28.35, 3300, 39),
                                  ('r = 0.842', '#00FF00', 28.36, 700, 36)]:
    ax.text(xpos, kpos, txt, color=col, fontsize=21, rotation=rot, rotation_mode='anchor',
            ha='center', va='center', zorder=8,
            path_effects=[pe.withStroke(linewidth=2.4, foreground='black')])

leg = ax.legend(loc='center left', bbox_to_anchor=(1569.5 / W, 1 - 495 / H), bbox_transform=fig.transFigure,
                frameon=False, fontsize=18, labelspacing=.52, handlelength=1, handletextpad=.1, borderpad=0, borderaxespad=0)

fig.add_artist(Rectangle((1757 / W, 0), 4 / W, 1, transform=fig.transFigure, facecolor='#444444', edgecolor='none'))

fig.savefig('out.png', dpi=100)
